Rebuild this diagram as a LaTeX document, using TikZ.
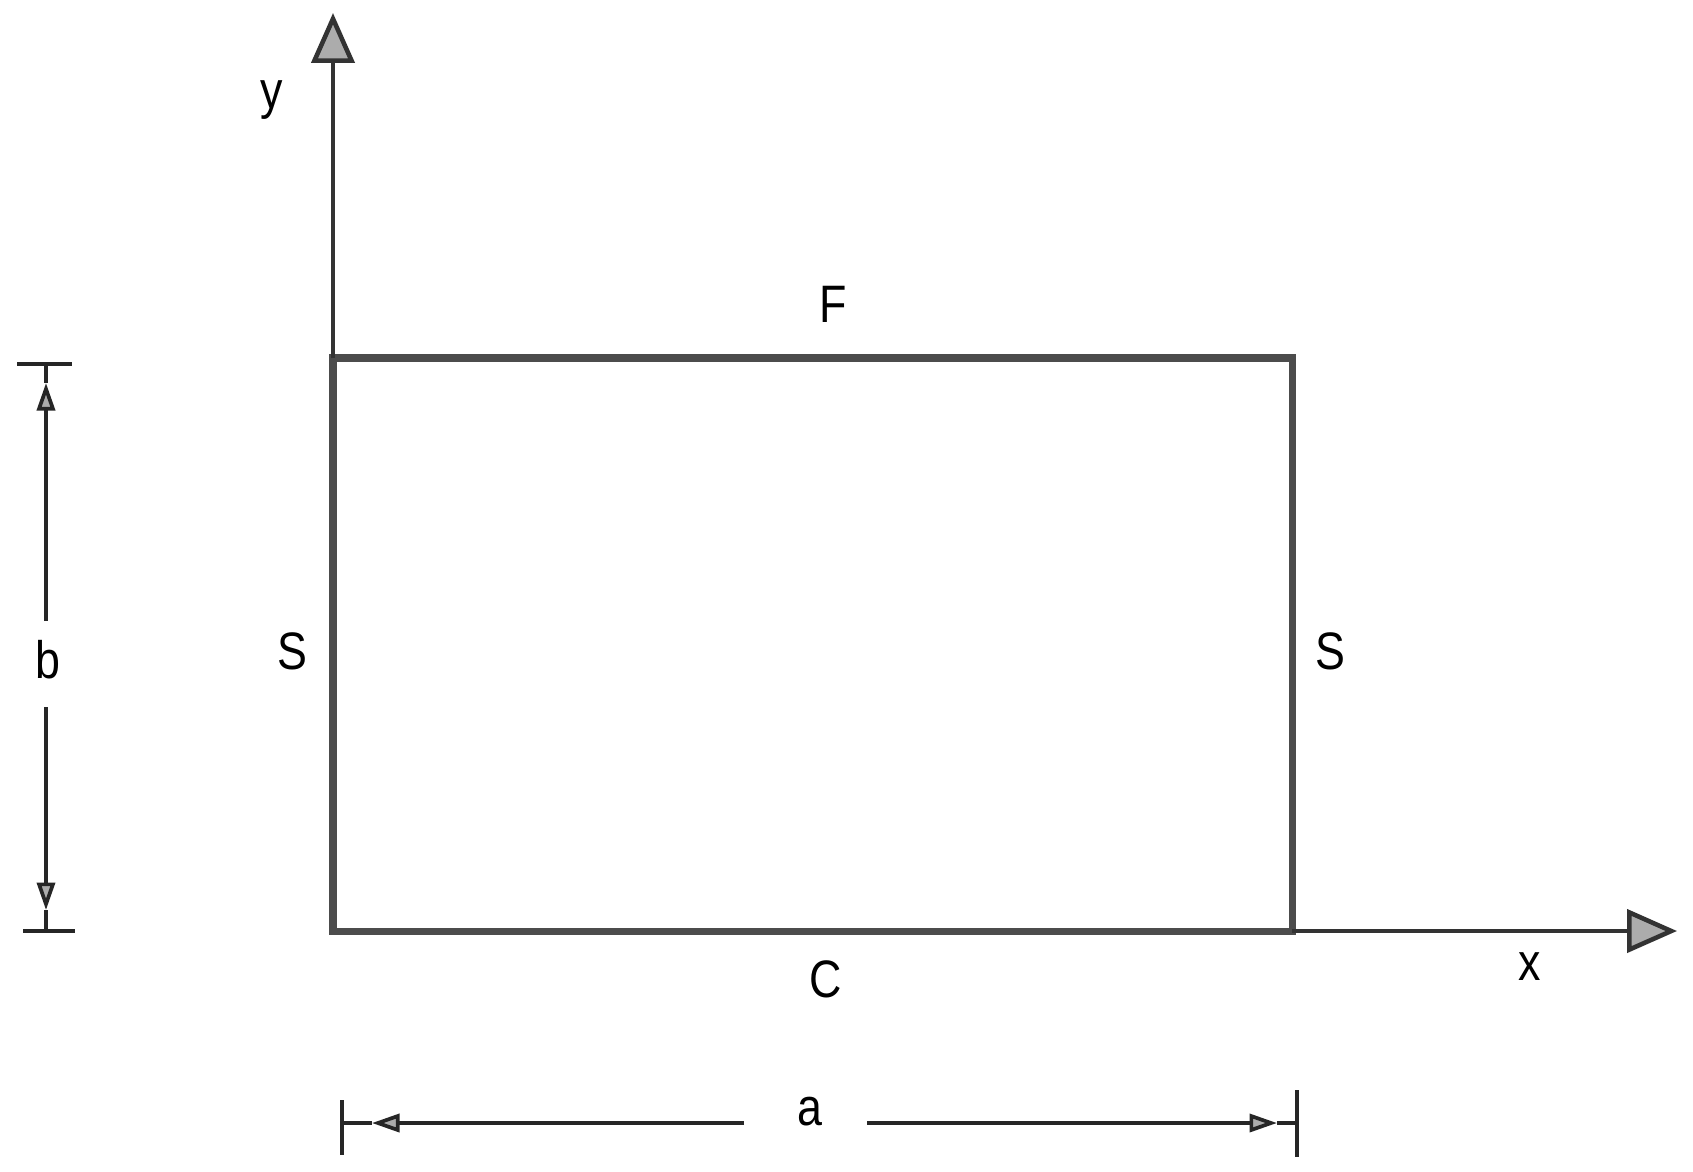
\documentclass[tikz,border=0pt]{standalone}
\usepackage{fontspec}
\setmainfont{Liberation Sans}
\usetikzlibrary{arrows.meta}

\begin{document}
\begin{tikzpicture}[x=0.02cm,y=-0.02cm]
  \def\lw{4pt}
  \def\aw{2.6pt}

\tikzstyle{lbl}=[inner sep=0pt,font=\fontsize{30}{36}\selectfont,xscale=0.85]
\tikzstyle{axis}=[line width=\aw,draw=black!80,-{Triangle[length=1cm,width=0.86cm,fill=gray!65]}]
\tikzstyle{plate}=[line width=\lw,draw=black!70]
\tikzstyle{dim}=[line width=2.1pt,draw=black!85]
\tikzstyle{dimarrow}=[dim,-{Triangle[length=0.55cm,width=0.36cm,fill=gray!65]}]

\useasboundingbox (0,0) rectangle (1693,1171);

% plate corners
\coordinate (P1) at (333,358);
\coordinate (P2) at (1292,358);
\coordinate (P3) at (1292,931);
\coordinate (P4) at (333,931);
\draw[plate] (P1) -- (P2) -- (P3) -- (P4) -- cycle;

% axes
\coordinate (Ytip) at (333,13);
\coordinate (Xtip) at (1677,931);
\draw[axis] (P1) -- (Ytip);
\draw[axis] (P3) -- (Xtip);
\node[lbl] (ylbl) at (272,100) {y};
\node[lbl] (xlbl) at (1530,967) {x};

% edge labels
\node[lbl] (F) at (833,304) {F};
\node[lbl] (S1) at (292,651) {S};
\node[lbl] (S2) at (1330,651) {S};
\node[lbl] (C) at (826,979) {C};

% dimension b
\coordinate (B1) at (17,364);
\coordinate (B2) at (72,364);
\coordinate (B3) at (23,931);
\coordinate (B4) at (75,931);
\draw[dim] (B1) -- (B2);
\draw[dim] (B3) -- (B4);
\node[lbl] (b) at (48,660) {b};
\coordinate (Bt) at (46,364);
\coordinate (Bta) at (46,383);
\coordinate (Bg1) at (46,621);
\coordinate (Bg2) at (46,707);
\coordinate (Bba) at (46,910);
\coordinate (Bb) at (46,931);
\draw[dim] (Bt) -- (Bta);
\draw[dimarrow] (Bg1) -- (Bta);
\draw[dim] (Bb) -- (Bba);
\draw[dimarrow] (Bg2) -- (Bba);

% dimension a
\coordinate (A1) at (342,1100);
\coordinate (A2) at (342,1155);
\coordinate (A3) at (1297,1090);
\coordinate (A4) at (1297,1157);
\draw[dim] (A1) -- (A2);
\draw[dim] (A3) -- (A4);
\node[lbl] (a) at (810,1112) {a};
\coordinate (Al) at (342,1123);
\coordinate (Ala) at (372,1123);
\coordinate (Ag1) at (744,1123);
\coordinate (Ag2) at (867,1123);
\coordinate (Ara) at (1277,1123);
\coordinate (Ar) at (1297,1123);
\draw[dim] (Al) -- (Ala);
\draw[dimarrow] (Ag1) -- (Ala);
\draw[dim] (Ar) -- (Ara);
\draw[dimarrow] (Ag2) -- (Ara);
\end{tikzpicture}
\end{document}
